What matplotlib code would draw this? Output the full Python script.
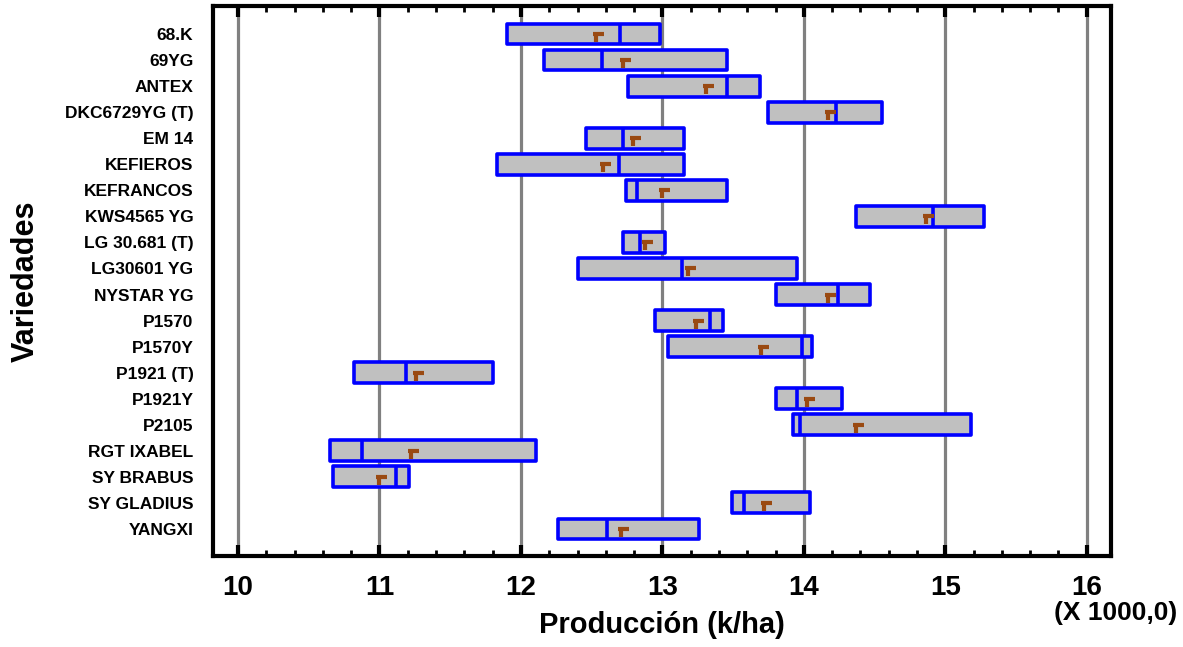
import matplotlib
matplotlib.use("Agg")
import matplotlib.pyplot as plt
import numpy as np
from matplotlib.path import Path
from matplotlib.ticker import MultipleLocator

plt.rcParams['font.family'] = ['Liberation Sans', 'DejaVu Sans']
plt.rcParams['font.weight'] = 'bold'

# variedades (de arriba a abajo)
variedades = ["68.K", "69YG", "ANTEX", "DKC6729YG (T)", "EM 14", "KEFIEROS",
              "KEFRANCOS", "KWS4565 YG", "LG 30.681 (T)", "LG30601 YG",
              "NYSTAR YG", "P1570", "P1570Y", "P1921 (T)", "P1921Y", "P2105",
              "RGT IXABEL", "SY BRABUS", "SY GLADIUS", "YANGXI"]

# produccion en miles de k/ha
q1 = [11.90, 12.16, 12.76, 13.75, 12.46, 11.83, 12.74, 14.37, 12.72, 12.40,
      13.80, 12.95, 13.04, 10.82, 13.80, 13.92, 10.65, 10.67, 13.49, 12.26]
mediana = [12.70, 12.57, 13.46, 14.23, 12.72, 12.69, 12.82, 14.91, 12.84, 13.14,
           14.24, 13.34, 13.99, 11.19, 13.95, 13.97, 10.88, 11.12, 13.58, 12.61]
q3 = [12.98, 13.46, 13.69, 14.55, 13.15, 13.15, 13.46, 15.27, 13.02, 13.95,
      14.47, 13.43, 14.06, 11.80, 14.27, 15.18, 12.11, 11.21, 14.04, 13.26]
media = [12.53, 12.72, 13.31, 14.17, 12.79, 12.58, 13.00, 14.86, 12.88, 13.18,
         14.17, 13.24, 13.70, 11.26, 14.02, 14.37, 11.22, 11.00, 13.72, 12.71]

fig = plt.figure(figsize=(11.83, 6.47), dpi=100)
ax = fig.add_axes([0.180, 0.1406, 0.759, 0.8501])

pos = np.arange(len(variedades))
h = 0.8
q1 = np.array(q1)
q3 = np.array(q3)

ax.barh(pos, q3 - q1, left=q1, height=h, color='#C0C0C0', edgecolor='#0000FF',
        linewidth=2.6, zorder=3)
for b in ax.patches:
    b.set_joinstyle('round')
ax.vlines(mediana, pos - h / 2, pos + h / 2, colors='#0000FF', linewidth=2.6, zorder=4)

# marcador de la media
mark = Path([(-0.35, 0.0), (1.0, 0.0), (0.0, 0.15), (0.0, -1.0)],
            [Path.MOVETO, Path.LINETO, Path.MOVETO, Path.LINETO])
ax.plot(media, pos, linestyle='none', marker=mark, markersize=11,
        markeredgewidth=3, color='#9A4A12', zorder=5)

ax.set_xlim(9.823, 16.17)
ax.set_ylim(len(variedades) - 1 + 1.04, -1.075)

ax.set_yticks(pos)
ax.set_yticklabels(variedades, fontsize=12.5, fontweight='bold')
ax.tick_params(axis='y', length=0, pad=14)

ax.xaxis.set_major_locator(MultipleLocator(1))
ax.xaxis.set_minor_locator(MultipleLocator(0.2))
ax.tick_params(axis='x', which='major', direction='in', length=8, width=3,
               top=True, labelsize=20, pad=14)
ax.tick_params(axis='x', which='minor', direction='in', length=4, width=2, top=True)
for lab in ax.get_xticklabels():
    lab.set_fontweight('bold')

ax.grid(axis='x', which='major', color='#808080', linewidth=2.3)
ax.set_axisbelow(True)
for s in ax.spines.values():
    s.set_linewidth(3)

ax.set_xlabel("Producción (k/ha)", fontsize=21, fontweight='bold', labelpad=7)
ax.set_ylabel("Variedades", fontsize=22, fontweight='bold', labelpad=17)
fig.text(0.995, 0.071, "(X 1000,0)", ha='right', va='top', fontsize=19,
         fontweight='bold')

fig.savefig("out.png", dpi=100)
